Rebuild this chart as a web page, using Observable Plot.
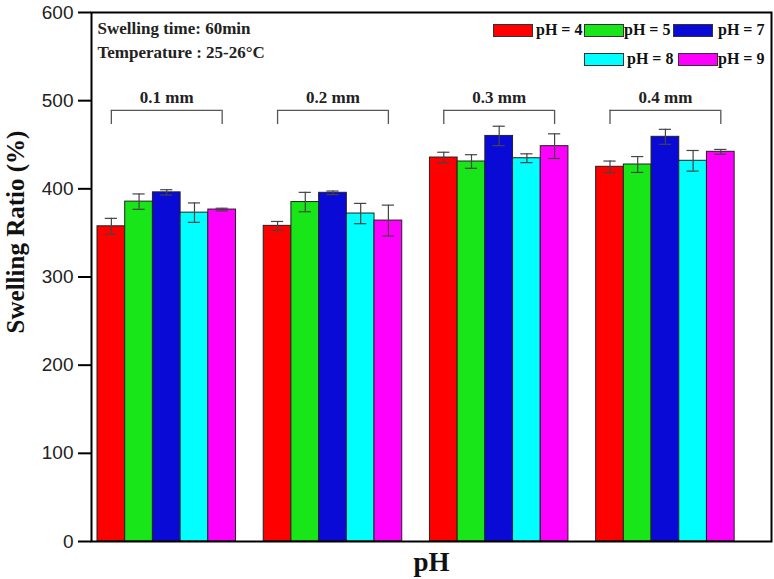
<!DOCTYPE html>
<html><head><meta charset="utf-8">
<script src="https://cdn.jsdelivr.net/npm/d3@7"></script>
<script src="https://cdn.jsdelivr.net/npm/@observablehq/plot@0.6"></script>
<style>
body{margin:0;background:#fff;}
#wrap{position:relative;width:774px;height:579px;}
.leg{position:absolute;font-family:"Liberation Serif","Times New Roman",serif;font-weight:bold;font-size:16px;color:#111;line-height:14px;}
.sw{position:absolute;width:38px;height:11px;border:1px solid #333;}
</style></head><body><div id="wrap"></div>
<script>
const groups = ["0.1 mm","0.2 mm","0.3 mm","0.4 mm"];
const phLabels = ["pH = 4","pH = 5","pH = 7","pH = 8","pH = 9"];
const colors = ["#ff0000","#19e619","#0a0ad6","#00ffff","#ff00ff"];
const ratio01 = [357.5,385.5,396,373,376.5];
const err01 = [9,8.7,3,11,1.5];
const ratio02 = [358,385,395.5,372,364];
const err02 = [5,11,2,11.5,17.5];
const ratio03 = [435.5,431,460,434.7,448.4];
const err03 = [6,7.7,11,5,14];
const ratio04 = [425,427.6,459,431.8,442];
const err04 = [6.5,9,8.5,11.7,2.7];
const yTicks = [0,100,200,300,400,500,600];
const noteTime = "Swelling time: 60min";
const noteTemp = "Temperature : 25-26°C";

const R = [ratio01,ratio02,ratio03,ratio04];
const E = [err01,err02,err03,err04];
const rows = groups.flatMap((g,gi)=>phLabels.map((p,k)=>({group:g,ph:p,slot:gi*6+k,value:R[gi][k],err:E[gi][k]})));
const brackets = groups.map((g,gi)=>({group:g,a:gi*6+0.5,b:gi*6+4.5,mid:gi*6+2.5}));

const serif = '"Liberation Serif","Times New Roman",serif';
const sans = '"Liberation Sans",Arial,sans-serif';
const errStroke = "#444";
const noteStyle = {frameAnchor:"top-left",text:d=>d,dx:6,lineAnchor:"middle",textAnchor:"start",fontFamily:serif,fontWeight:"bold",fontSize:17,fill:"#222",ariaLabel:"annotation"};

const chart = Plot.plot({
  width:774, height:579,
  marginTop:12, marginBottom:38, marginLeft:91, marginRight:3,
  style:{background:"#fff", overflow:"visible"},
  x:{type:"linear", domain:[-0.217,24.33], axis:null},
  y:{domain:[0,600], axis:null},
  color:{domain:phLabels, range:colors},
  marks:[
    Plot.rectY(rows,{x1:d=>d.slot,x2:d=>d.slot+1,y:"value",fill:"ph",stroke:"#222",strokeWidth:1}),
    Plot.ruleX(rows,{x:d=>d.slot+0.5,y1:d=>d.value-d.err,y2:d=>d.value+d.err,stroke:errStroke,strokeWidth:1.2}),
    Plot.ruleY(rows,{y:d=>d.value+d.err,x1:d=>d.slot+0.28,x2:d=>d.slot+0.72,stroke:errStroke,strokeWidth:1.2}),
    Plot.ruleY(rows,{y:d=>d.value-d.err,x1:d=>d.slot+0.28,x2:d=>d.slot+0.72,stroke:errStroke,strokeWidth:1.2}),
    Plot.ruleY(brackets,{y:489,x1:"a",x2:"b",stroke:"#555",strokeWidth:1.3}),
    Plot.ruleX(brackets,{x:"a",y1:473,y2:489,stroke:"#555",strokeWidth:1.3}),
    Plot.ruleX(brackets,{x:"b",y1:473,y2:489,stroke:"#555",strokeWidth:1.3}),
    Plot.text(brackets,{x:"mid",y:497,text:"group",lineAnchor:"bottom",fontFamily:serif,fontWeight:"bold",fontSize:17,fill:"#222",ariaLabel:"group label"}),
    Plot.axisY({ticks:yTicks,tickSize:13,tickPadding:5,fontSize:19,fontFamily:sans,stroke:"#000",strokeWidth:2,fill:"#222",label:null}),
    Plot.frame({stroke:"#000",strokeWidth:2}),
    Plot.text([noteTime],{...noteStyle,dy:16}),
    Plot.text([noteTemp],{...noteStyle,dy:40}),
    Plot.text(["Swelling Ratio (%)"],{frameAnchor:"left",text:d=>d,rotate:-90,dx:-76,dy:-45,textAnchor:"middle",lineAnchor:"middle",fontFamily:serif,fontWeight:"bold",fontSize:25,fill:"#111"}),
    Plot.text(["pH"],{frameAnchor:"bottom",text:d=>d,dy:21,textAnchor:"middle",lineAnchor:"middle",fontFamily:serif,fontWeight:"bold",fontSize:27,fill:"#111"})
  ]
});
chart.querySelectorAll('g[aria-label="annotation"] text').forEach(t=>t.style.letterSpacing="1px");
chart.querySelectorAll('g[aria-label="group label"] text').forEach(t=>t.style.letterSpacing="0.8px");
document.getElementById("wrap").appendChild(chart);

// legend overlay
const legLayout = [[493,536,24],[584,624,24],[673,718,24],[584,627,53],[678,718,53]];
const wrap = document.getElementById("wrap");
phLabels.forEach((p,i)=>{
  const [sx,tx,y]=legLayout[i];
  const sw=document.createElement("div"); sw.className="sw"; sw.style.left=sx+"px"; sw.style.top=y+"px"; sw.style.background=colors[i]; wrap.appendChild(sw);
  const tt=document.createElement("div"); tt.className="leg"; tt.style.left=tx+"px"; tt.style.top=(y-1)+"px"; tt.textContent=p; wrap.appendChild(tt);
});
</script></body></html>
